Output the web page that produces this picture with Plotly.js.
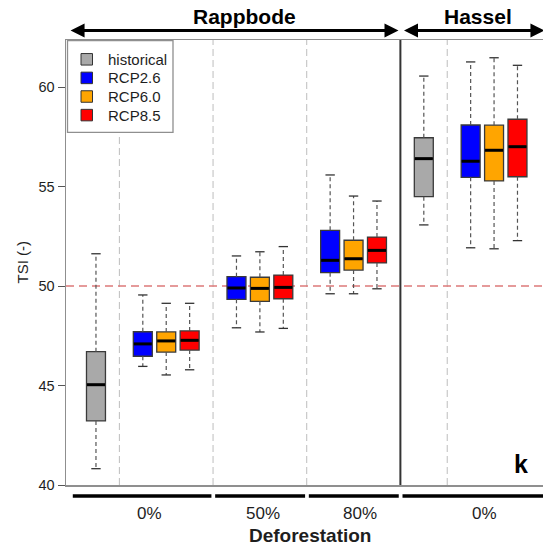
<!DOCTYPE html>
<html>
<head>
<meta charset="utf-8">
<script src="https://cdn.plot.ly/plotly-3.0.1.min.js"></script>
<style>html,body{margin:0;padding:0;overflow:hidden;background:#fff}</style>
</head>
<body>
<div id="chart" style="width:543px;height:547px"></div>
<script>
// ---------- DATA ----------
const catchments = ['Rappbode', 'Hassel'];
const groupLabels = ['0%', '50%', '80%', '0%'];
const groupCatchment = [0, 0, 0, 1];
const seriesNames = ['historical', 'RCP2.6', 'RCP6.0', 'RCP8.5'];

const histLower = [40.82, null, null, 53.07];
const histQ1    = [43.22, null, null, 54.49];
const histMed   = [45.04, null, null, 56.40];
const histQ3    = [46.70, null, null, 57.45];
const histUpper = [51.62, null, null, 60.55];

const rcp26Lower = [45.96, 47.90, 49.61, 51.92];
const rcp26Q1    = [46.47, 49.33, 50.67, 55.46];
const rcp26Med   = [47.09, 49.90, 51.29, 56.27];
const rcp26Q3    = [47.70, 50.47, 52.80, 58.09];
const rcp26Upper = [49.55, 51.51, 55.58, 61.26];

const rcp60Lower = [45.53, 47.69, 49.61, 51.87];
const rcp60Q1    = [46.68, 49.23, 50.80, 55.28];
const rcp60Med   = [47.24, 49.88, 51.37, 56.82];
const rcp60Q3    = [47.69, 50.44, 52.30, 58.08];
const rcp60Upper = [49.13, 51.72, 54.52, 61.47];

const rcp85Lower = [45.79, 47.87, 49.86, 52.28];
const rcp85Q1    = [46.78, 49.36, 51.16, 55.49];
const rcp85Med   = [47.27, 49.93, 51.79, 57.00];
const rcp85Q3    = [47.74, 50.55, 52.46, 58.38];
const rcp85Upper = [49.13, 51.98, 54.27, 61.09];

const yTicks = [40, 45, 50, 55, 60];
const refLine = 50;

// ---------- STYLE ----------
const seriesColors = ['#A9A9A9', '#0000FF', '#FFA500', '#FF0000'];
const FONT = 'Liberation Sans, Arial, sans-serif';
const TXT = '#1e1e1e';
const FRAME = '#8f8f8f';
const boxW = 0.81, capW = 0.40;

const stats = [
  {lo: histLower, q1: histQ1, med: histMed, q3: histQ3, hi: histUpper},
  {lo: rcp26Lower, q1: rcp26Q1, med: rcp26Med, q3: rcp26Q3, hi: rcp26Upper},
  {lo: rcp60Lower, q1: rcp60Q1, med: rcp60Med, q3: rcp60Q3, hi: rcp60Upper},
  {lo: rcp85Lower, q1: rcp85Q1, med: rcp85Med, q3: rcp85Q3, hi: rcp85Upper}
];

// ---------- POSITIONS (layout logic) ----------
const nG = groupLabels.length;
const pos = seriesNames.map(() => Array(nG).fill(null));
const dashedSeps = [], solidSeps = [], groupBounds = [];
let cur = 1;
for (let g = 0; g < nG; g++) {
  const start = cur - 1;
  if (stats[0].med[g] != null) { pos[0][g] = cur; cur += 1; dashedSeps.push(cur); cur += 1; }
  for (let s = 1; s < seriesNames.length; s++) { pos[s][g] = cur; cur++; }
  groupBounds.push([start, cur]);
  if (g < nG - 1) {
    if (groupCatchment[g + 1] !== groupCatchment[g]) solidSeps.push(cur); else dashedSeps.push(cur);
  }
  cur += 1;
}
const xMin = -0.28, xMax = 20.09;

// ---------- TRACES ----------
const traces = [];
stats.forEach((st, s) => {
  const xs = [], q1 = [], med = [], q3 = [];
  for (let g = 0; g < nG; g++) {
    if (st.med[g] == null) continue;
    xs.push(pos[s][g]); q1.push(st.q1[g]); med.push(st.med[g]); q3.push(st.q3[g]);
  }
  traces.push({
    type: 'box', name: seriesNames[s], x: xs, q1: q1, median: med, q3: q3,
    lowerfence: q1, upperfence: q3, width: boxW, whiskerwidth: 0,
    fillcolor: seriesColors[s], line: {color: '#3a3a3a', width: 1.3},
    boxpoints: false, showlegend: false, hoverinfo: 'skip'
  });
});
stats.forEach((st, s) => {
  const wx = [], wy = [], cx = [], cy = [], mx = [], my = [];
  for (let g = 0; g < nG; g++) {
    if (st.med[g] == null) continue;
    const p = pos[s][g];
    wx.push(p, p, null, p, p, null);
    wy.push(st.q3[g], st.hi[g], null, st.q1[g], st.lo[g], null);
    cx.push(p - capW / 2, p + capW / 2, null, p - capW / 2, p + capW / 2, null);
    cy.push(st.hi[g], st.hi[g], null, st.lo[g], st.lo[g], null);
    mx.push(p - boxW / 2 + 0.02, p + boxW / 2 - 0.02, null);
    my.push(st.med[g], st.med[g], null);
  }
  traces.push({type: 'scatter', mode: 'lines', x: wx, y: wy, showlegend: false, hoverinfo: 'skip',
    line: {color: '#555', width: 1.2, dash: '4px,3px'}});
  traces.push({type: 'scatter', mode: 'lines', x: cx, y: cy, showlegend: false, hoverinfo: 'skip',
    line: {color: '#333', width: 1.3}});
  traces.push({type: 'scatter', mode: 'lines', x: mx, y: my, showlegend: false, hoverinfo: 'skip',
    line: {color: '#000', width: 3}});
});

// ---------- LAYOUT ----------
const mL = 66, mT = 40, W = 543, H = 547, mB = 62;
const plotW = W - mL, plotH = H - mT - mB;
const pxX = px => (px - mL) / plotW;
const pxY = py => (H - mB - py) / plotH;

const shapes = [];
dashedSeps.forEach(x => shapes.push({type: 'line', xref: 'x', yref: 'paper', x0: x, x1: x, y0: 0, y1: 1,
  layer: 'below', line: {color: '#bdbdbd', width: 1, dash: '7px,4px'}}));
solidSeps.forEach(x => shapes.push({type: 'line', xref: 'x', yref: 'paper', x0: x, x1: x, y0: 0, y1: 1,
  layer: 'above', line: {color: '#333', width: 2}}));
shapes.push({type: 'line', xref: 'paper', yref: 'y', x0: 0, x1: 1, y0: refLine, y1: refLine,
  layer: 'below', line: {color: '#dd7a7a', width: 1.3, dash: '8px,5px'}});
// group underline bars
groupBounds.forEach((b, g) => {
  const x0 = g === 0 ? b[0] + 0.01 : b[0] + 0.09;
  const x1 = g === nG - 1 ? b[1] + 0.3 : b[1] - 0.07;
  shapes.push({type: 'line', xref: 'x', yref: 'paper', x0: x0, x1: x1, y0: pxY(496), y1: pxY(496),
    layer: 'above', line: {color: '#000', width: 3.5}});
});
// legend box
shapes.push({type: 'rect', xref: 'paper', yref: 'paper', x0: pxX(67.5), x1: pxX(173), y0: pxY(132.3), y1: pxY(40.5),
  layer: 'above', fillcolor: '#fff', line: {color: FRAME, width: 1.3}});
const rowY = [59.3, 77.9, 96.5, 115.1];
const annotations = [];
seriesNames.forEach((n, s) => {
  shapes.push({type: 'rect', xref: 'paper', yref: 'paper', x0: pxX(81), x1: pxX(92.5),
    y0: pxY(rowY[s] + 5.75), y1: pxY(rowY[s] - 5.75), layer: 'above',
    fillcolor: seriesColors[s], line: {color: '#333', width: 1}});
  annotations.push({xref: 'paper', yref: 'paper', x: pxX(106), y: pxY(rowY[s]), xanchor: 'left', yanchor: 'middle',
    text: n, showarrow: false, font: {family: FONT, size: 15, color: TXT}});
});

// group labels
const labelShift = [0.29, 0.15, 0.26, 0.59];
groupBounds.forEach((b, g) => {
  annotations.push({xref: 'x', yref: 'paper', x: (b[0] + b[1]) / 2 + labelShift[g], y: pxY(513),
    xanchor: 'center', yanchor: 'middle', text: groupLabels[g], showarrow: false,
    font: {family: FONT, size: 17, color: TXT}});
});
annotations.push({xref: 'paper', yref: 'paper', x: pxX(310), y: pxY(535.5), xanchor: 'center', yanchor: 'middle',
  text: '<b>Deforestation</b>', showarrow: false, font: {family: FONT, size: 19, color: TXT}});
annotations.push({xref: 'paper', yref: 'paper', x: pxX(22), y: 0.5, xanchor: 'center', yanchor: 'middle',
  text: 'TSI (-)', textangle: -90, showarrow: false, font: {family: FONT, size: 15, color: TXT}});
annotations.push({xref: 'x', yref: 'paper', x: 19.13, y: pxY(464), xanchor: 'center', yanchor: 'middle',
  text: '<b>k</b>', showarrow: false, font: {family: FONT, size: 25, color: '#000'}});

// catchment arrows + titles
catchments.forEach((c, ci) => {
  const gs = groupBounds.filter((b, g) => groupCatchment[g] === ci);
  const a = gs[0][0], bnd = gs[gs.length - 1][1];
  const left = ci === 0 ? a - 0.15 : a + 0.09;
  const right = ci === catchments.length - 1 ? bnd + 0.15 : bnd - 0.08;
  annotations.push({xref: 'x', yref: 'paper', x: right, y: pxY(30.5), axref: 'x', ax: left, ayref: 'pixel', ay: 0,
    text: '', showarrow: true, arrowside: 'end+start', arrowhead: 2, arrowsize: 1, arrowwidth: 2.8,
    arrowcolor: '#000', standoff: 0, startstandoff: 0});
  annotations.push({xref: 'x', yref: 'paper', x: (a + bnd) / 2 + 0.33, y: pxY(16.6), xanchor: 'center', yanchor: 'middle',
    text: '<b>' + c + '</b>', showarrow: false, font: {family: FONT, size: 21, color: '#000'}});
});

const layout = {
  width: W, height: H,
  margin: {l: mL, r: 0, t: mT, b: mB, pad: 0},
  paper_bgcolor: '#fff', plot_bgcolor: '#fff',
  showlegend: false,
  font: {family: FONT, color: TXT},
  xaxis: {range: [xMin, xMax], showgrid: false, zeroline: false, showticklabels: false, ticks: '',
    showline: true, mirror: true, linecolor: FRAME, linewidth: 1.5, fixedrange: true},
  yaxis: {range: [40, 40 + plotH / 19.9], tickvals: yTicks, ticktext: yTicks.map(String),
    ticks: 'outside', ticklen: 7, tickcolor: '#555', tickwidth: 1,
    tickfont: {family: FONT, size: 14.5, color: TXT},
    showgrid: false, zeroline: false, showline: true, linecolor: FRAME, linewidth: 1.5, fixedrange: true},
  shapes: shapes,
  annotations: annotations
};

Plotly.newPlot('chart', traces, layout, {staticPlot: true, displayModeBar: false});
</script>
</body>
</html>
